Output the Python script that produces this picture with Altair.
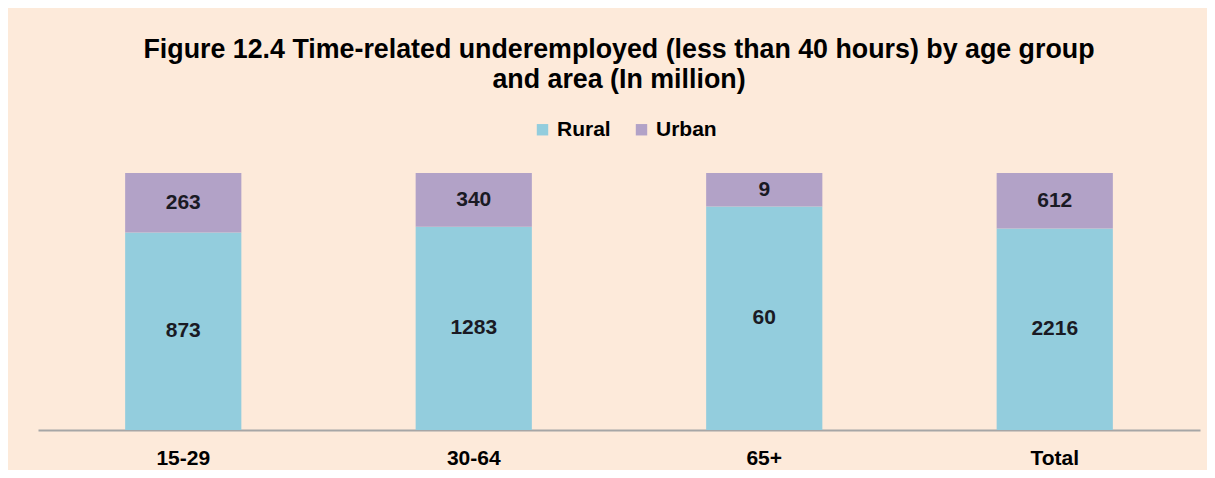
import altair as alt
import pandas as pd

categories = ["15-29", "30-64", "65+", "Total"]
rural = [873, 1283, 60, 2216]
urban = [263, 340, 9, 612]
areas = ["Rural", "Urban"]
colors = ["#93CDDD", "#B2A2C7"]

rows = []
for c, r, u in zip(categories, rural, urban):
    rows.append({"cat": c, "area": "Rural", "value": r})
    rows.append({"cat": c, "area": "Urban", "value": u})
df = pd.DataFrame(rows)

base = alt.Chart(df).transform_stack(
    stack="value", groupby=["cat"], sort=[alt.SortField("area", "ascending")],
    offset="normalize", as_=["y0", "y1"]
).transform_calculate(mid="(datum.y0 + datum.y1) / 2")

xenc = alt.X("cat:N", sort=categories, title=None,
             scale=alt.Scale(paddingInner=0.6, paddingOuter=0.3),
             axis=alt.Axis(labelAngle=0, labelFont="Liberation Sans", labelFontSize=21,
                           labelFontWeight="bold", labelColor="#000000", labelPadding=17,
                           ticks=False, domainColor="#A6A6A6", domainWidth=2))

bars = base.mark_bar().encode(
    x=xenc,
    y=alt.Y("y0:Q", axis=None, scale=alt.Scale(domain=[0, 1], nice=False)),
    y2="y1:Q",
    color=alt.Color("area:N", scale=alt.Scale(domain=areas, range=colors),
                    legend=alt.Legend(title=None, orient="none", direction="horizontal",
                                      legendX=494, legendY=-54, symbolType="square",
                                      symbolSize=130, symbolStrokeWidth=0,
                                      labelFont="Liberation Sans", labelFontSize=21,
                                      labelFontWeight="bold", labelColor="#000000",
                                      columnPadding=20, labelOffset=4)),
)

labels = base.mark_text(font="Liberation Sans", fontSize=21, fontWeight="bold",
                        color="#1A1A24").encode(
    x=alt.X("cat:N", sort=categories),
    y=alt.Y("mid:Q"),
    text=alt.Text("value:Q"),
)

chart = alt.layer(bars, labels).properties(
    width=1162, height=257,
    autosize=alt.AutoSizeParams(type="none"),
    padding={"left": 30, "top": 165, "right": 7, "bottom": 40},
    background="#FDEADA",
    title=alt.TitleParams(
        ["Figure 12.4 Time-related underemployed (less than 40 hours) by age group",
         "and area (In million)"],
        font="Liberation Sans", fontSize=26.8, fontWeight="bold", color="#000000",
        anchor="middle", lineHeight=30, offset=25),
).configure_view(stroke=None)

chart.save("out.html", embed_options={"renderer": "svg", "actions": False})
